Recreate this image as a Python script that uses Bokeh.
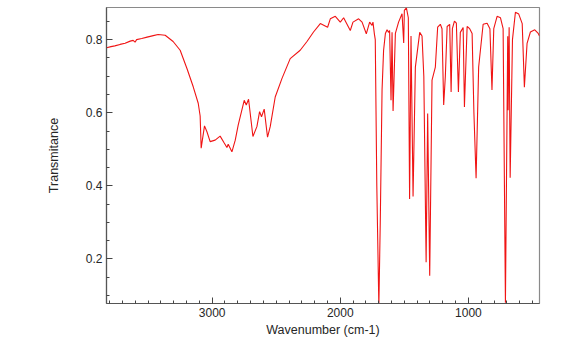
from bokeh.plotting import figure
from bokeh.models import Range1d, SingleIntervalTicker
from bokeh.embed import file_html
from bokeh.resources import INLINE

wavenumber = [3824, 3790, 3760, 3719, 3680, 3640, 3617, 3602, 3590, 3550, 3508, 3460, 3422,
              3367, 3305, 3250, 3195, 3148, 3109, 3094, 3086, 3060, 3041, 3016, 2977, 2938,
              2906, 2885, 2875, 2846, 2820, 2797, 2750, 2734, 2716, 2682, 2651, 2630, 2615,
              2594, 2568, 2547, 2508, 2455, 2391, 2313, 2260, 2209, 2156, 2099, 2078, 2039,
              2000, 1974, 1922, 1901, 1857, 1830, 1797, 1771, 1752, 1745, 1734, 1727, 1715,
              1699, 1688, 1674, 1662, 1648, 1635, 1623, 1615, 1604, 1596, 1588, 1570, 1545,
              1518, 1505, 1500, 1484, 1469, 1459, 1448, 1432, 1414, 1380, 1362, 1348, 1330,
              1318, 1302, 1284, 1258, 1240, 1219, 1206, 1193, 1180, 1166, 1146, 1135, 1125,
              1109, 1094, 1078, 1063, 1041, 1031, 1010, 990, 971, 957, 940, 920, 885, 854,
              832, 816, 802, 776, 750, 729, 711, 693, 690, 682, 674, 656, 633, 607, 580, 563,
              542, 516, 482, 455, 445]
transmittance = [0.778, 0.781, 0.783, 0.787, 0.790, 0.796, 0.798, 0.793, 0.800, 0.803, 0.807, 0.811, 0.814,
                 0.812, 0.795, 0.771, 0.719, 0.671, 0.626, 0.591, 0.503, 0.564, 0.548, 0.521, 0.525, 0.536,
                 0.517, 0.505, 0.514, 0.493, 0.525, 0.566, 0.634, 0.621, 0.637, 0.535, 0.562, 0.603, 0.589,
                 0.610, 0.533, 0.562, 0.643, 0.694, 0.748, 0.771, 0.795, 0.821, 0.844, 0.834, 0.857, 0.864,
                 0.848, 0.860, 0.825, 0.848, 0.857, 0.848, 0.816, 0.848, 0.839, 0.848, 0.816, 0.800, 0.400,
                 0.070, 0.300, 0.662, 0.771, 0.817, 0.827, 0.820, 0.825, 0.634, 0.820, 0.605, 0.817, 0.848,
                 0.871, 0.791, 0.880, 0.887, 0.860, 0.364, 0.810, 0.371, 0.725, 0.820, 0.810, 0.700, 0.191,
                 0.598, 0.154, 0.689, 0.725, 0.834, 0.842, 0.830, 0.621, 0.700, 0.836, 0.842, 0.657, 0.830,
                 0.851, 0.845, 0.657, 0.820, 0.833, 0.616, 0.836, 0.830, 0.817, 0.600, 0.421, 0.725, 0.842, 0.845,
                 0.830, 0.662, 0.830, 0.864, 0.860, 0.830, 0.080, 0.809, 0.607, 0.834, 0.422, 0.800, 0.875, 0.870, 0.844, 0.670,
                 0.790, 0.821, 0.827, 0.817, 0.810]

x_label = "Wavenumber (cm-1)"
y_label = "Transmitance"

p = figure(frame_width=433, frame_height=296, min_border_left=106, min_border_right=46,
           min_border_top=7, min_border_bottom=41,
           x_range=Range1d(3825, 445), y_range=Range1d(0.078, 0.888),
           output_backend="svg", toolbar_location=None)

p.line(wavenumber, transmittance, line_color="#f01414", line_width=1.1)

p.xgrid.visible = False
p.ygrid.visible = False
p.outline_line_color = "#8a8a8a"
p.outline_line_width = 1.2
p.background_fill_color = "white"
p.border_fill_color = "white"

p.xaxis.ticker = SingleIntervalTicker(interval=1000, num_minor_ticks=10)
p.yaxis.ticker = SingleIntervalTicker(interval=0.2, num_minor_ticks=4)

for ax in (p.xaxis[0], p.yaxis[0]):
    ax.axis_line_color = "#555555"
    ax.axis_line_width = 1.2
    ax.major_tick_line_color = "#444444"
    ax.minor_tick_line_color = "#444444"
    ax.major_tick_in = 6
    ax.major_tick_out = 0
    ax.minor_tick_in = 3
    ax.minor_tick_out = 0
    ax.major_label_text_font = "Liberation Sans"
    ax.major_label_text_font_size = "12px"
    ax.major_label_text_color = "#262626"
    ax.axis_label_text_font = "Liberation Sans"
    ax.axis_label_text_font_size = "12.5px"
    ax.axis_label_text_font_style = "normal"
    ax.axis_label_text_color = "#262626"
    ax.major_label_standoff = 4

p.xaxis.axis_label = x_label
p.yaxis.axis_label = y_label
p.xaxis.axis_label_standoff = 3
p.yaxis.axis_label_standoff = 22

open("out.html", "w").write(file_html(p, INLINE))
